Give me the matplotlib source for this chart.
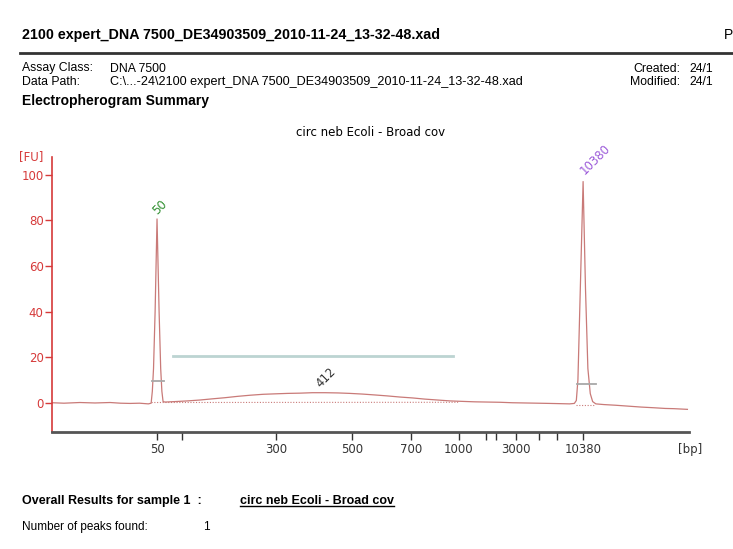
import numpy as np
import matplotlib
matplotlib.use("Agg")
import matplotlib.pyplot as plt
from matplotlib.lines import Line2D

# ---------------------------------------------------------------------------
# data (x = migration time in s, y = FU)
# ---------------------------------------------------------------------------
ladder_bp = [50, 100, 300, 500, 700, 1000, 1500, 2000, 3000, 5000, 7000, 10380]
ladder_time = [53.2, 56.3, 68.1, 77.7, 85.1, 91.1, 94.5, 95.8, 98.3, 101.2, 103.4, 106.7]
labelled_bp = [50, 300, 500, 700, 1000, 3000, 10380]

trace_time = [40.0, 41.5, 43.5, 45.4, 47.3, 48.6, 49.8, 51.0, 52.1, 52.45,
              52.6, 52.75, 52.95, 53.19, 53.45, 53.65, 53.8, 53.95,
              54.2, 55.4, 57.0, 58.6, 60.1, 61.7, 63.3, 64.9, 66.5, 68.0,
              69.6, 71.1, 72.7, 74.3, 75.9, 77.4, 79.0, 80.6, 82.1, 83.7,
              85.3, 86.8, 88.4, 90.0, 91.5, 93.1, 94.7, 96.3, 97.8, 99.4,
              101.0, 102.5, 103.8, 105.0, 105.6, 105.85, 106.05, 106.35,
              106.7, 107.0, 107.3, 107.6, 107.9, 108.3, 109.3, 110.8, 112.4,
              114.0, 115.6, 117.0, 118.1, 119.8]
trace_fu = [0.0, -0.2, 0.1, -0.1, 0.1, -0.2, -0.3, -0.2, -0.5, -0.2,
            5.0, 15.0, 40.0, 80.6, 40.0, 15.0, 5.0, 0.5,
            0.3, 0.5, 0.8, 1.2, 1.7, 2.2, 2.8, 3.3, 3.7, 3.9,
            4.1, 4.2, 4.4, 4.4, 4.3, 4.1, 3.8, 3.4, 3.0, 2.5,
            2.1, 1.6, 1.2, 0.8, 0.6, 0.4, 0.3, 0.2, 0.0, -0.1,
            -0.2, -0.3, -0.4, -0.5, -0.3, 1.0, 10.0, 50.0,
            97.0, 50.0, 15.0, 4.0, 0.5, -0.5, -0.8, -1.1, -1.5,
            -1.9, -2.2, -2.5, -2.6, -2.9]

peak_bp = [50, 412, 10380]
peak_time = [53.19, 74.2, 106.7]
peak_colors = ["#2f8f2f", "#333333", "#9b59d9"]

# baselines under the peaks / smear (dotted)
base_time = [[52.5, 91.0], [105.8, 108.1]]
base_fu = [[0.1, 0.2], [-0.9, -0.9]]

# half-height markers of the marker peaks
half_time = [[52.5, 54.1], [105.9, 108.3]]
half_fu = [9.5, 8.3]

# smear region bar
region_time = [55.2, 90.4]
region_fu = 20.5

sample_name = "circ neb Ecoli - Broad cov"
file_name = "2100 expert_DNA 7500_DE34903509_2010-11-24_13-32-48.xad"

RED = "#d63a3a"
TRACE = "#c97a78"

W, H = 733, 549
fig = plt.figure(figsize=(W / 100, H / 100), dpi=100)
plt.rcParams["font.family"] = ["DejaVu Sans"]


def px(x, y):
    return x / W, 1 - y / H


# ---------------------------------------------------------------------------
# report header
# ---------------------------------------------------------------------------
hdr = dict(family="Liberation Sans", color="black", va="center")
fig.text(*px(22, 35), file_name, fontsize=10.3, fontweight="bold", **hdr)
fig.text(*px(724, 35), "P", fontsize=10, **hdr)
fig.add_artist(Line2D([20 / W, 1], [1 - 53 / H] * 2, color="#333333", lw=2))
fig.text(*px(22, 68.5), "Assay Class:", fontsize=8.8, **hdr)
fig.text(*px(22, 82), "Data Path:", fontsize=8.8, **hdr)
fig.text(*px(110, 68.5), "DNA 7500", fontsize=8.8, **hdr)
fig.text(*px(110, 82), "C:\\...-24\\" + file_name, fontsize=9.1, **hdr)
fig.text(*px(680, 68.5), "Created:", fontsize=8.8, ha="right", **hdr)
fig.text(*px(680, 82), "Modified:", fontsize=8.8, ha="right", **hdr)
fig.text(*px(689, 68.5), "24/1", fontsize=8.8, **hdr)
fig.text(*px(689, 82), "24/1", fontsize=8.8, **hdr)
fig.text(*px(22, 101), "Electropherogram Summary", fontsize=10,
         fontweight="bold", **hdr)

# ---------------------------------------------------------------------------
# electropherogram
# ---------------------------------------------------------------------------
ax = fig.add_axes([52 / W, 1 - 431.7 / H, (689 - 52) / W, (431.7 - 156.7) / H])
ax.plot(trace_time, trace_fu, color=TRACE, lw=0.9)
for bt, bf in zip(base_time, base_fu):
    ax.plot(bt, bf, color=TRACE, lw=0.8, ls=(0, (1, 1.5)))
for ht, hf in zip(half_time, half_fu):
    ax.plot(ht, [hf, hf], color="#a8a8a8", lw=1.3)
ax.plot(region_time, [region_fu, region_fu], color="#bcd4d2", lw=2)

for bp, t, c in zip(peak_bp, peak_time, peak_colors):
    v = np.interp(t, trace_time, trace_fu)
    off = {50: (3, 12), 412: (2, 15), 10380: (12, 22)}[bp]
    ax.annotate(str(bp), (t, v), xytext=off, textcoords="offset pixels",
                ha="center", va="center", rotation=45, color=c, fontsize=8.5)

ax.set_xlim(40, 120)
ax.set_ylim(-12.7, 107.9)
ax.set_yticks(range(0, 101, 20))
ax.set_xticks(ladder_time)
ax.set_xticklabels([str(b) if b in labelled_bp else "" for b in ladder_bp])
for s in ("top", "right"):
    ax.spines[s].set_visible(False)
ax.spines["left"].set_color(RED)
ax.spines["left"].set_linewidth(1.2)
ax.spines["bottom"].set_color("#555555")
ax.spines["bottom"].set_linewidth(2)
ax.tick_params(axis="y", colors=RED, labelsize=8.5, length=5, width=1, pad=1)
ax.tick_params(axis="x", colors="#333333", labelsize=8.5, length=6, width=1,
               pad=2)
ax.set_title(sample_name, fontsize=8.5, pad=15)
fig.text(*px(31, 157), "[FU]", color=RED, fontsize=8.5, ha="center", va="center")
fig.text(*px(690, 449), "[bp]", color="#333333", fontsize=8.5, ha="center",
         va="center")

# ---------------------------------------------------------------------------
# results block
# ---------------------------------------------------------------------------
res = dict(family="Liberation Sans", color="black", va="center")
fig.text(*px(22, 501), "Overall Results for sample 1  :", fontsize=9,
         fontweight="bold", **res)
name_txt = fig.text(*px(240, 501), sample_name, fontsize=9, fontweight="bold",
                    **res)
fig.text(*px(22, 527), "Number of peaks found:", fontsize=8.5, **res)
fig.text(*px(203, 527), "1", fontsize=8.5, **res)

# underline the sample name
fig.canvas.draw()
bb = name_txt.get_window_extent().transformed(fig.transFigure.inverted())
fig.add_artist(Line2D([bb.x0, bb.x1], [bb.y0 + 0.002] * 2, color="black", lw=1))

fig.savefig("out.png", dpi=100)
